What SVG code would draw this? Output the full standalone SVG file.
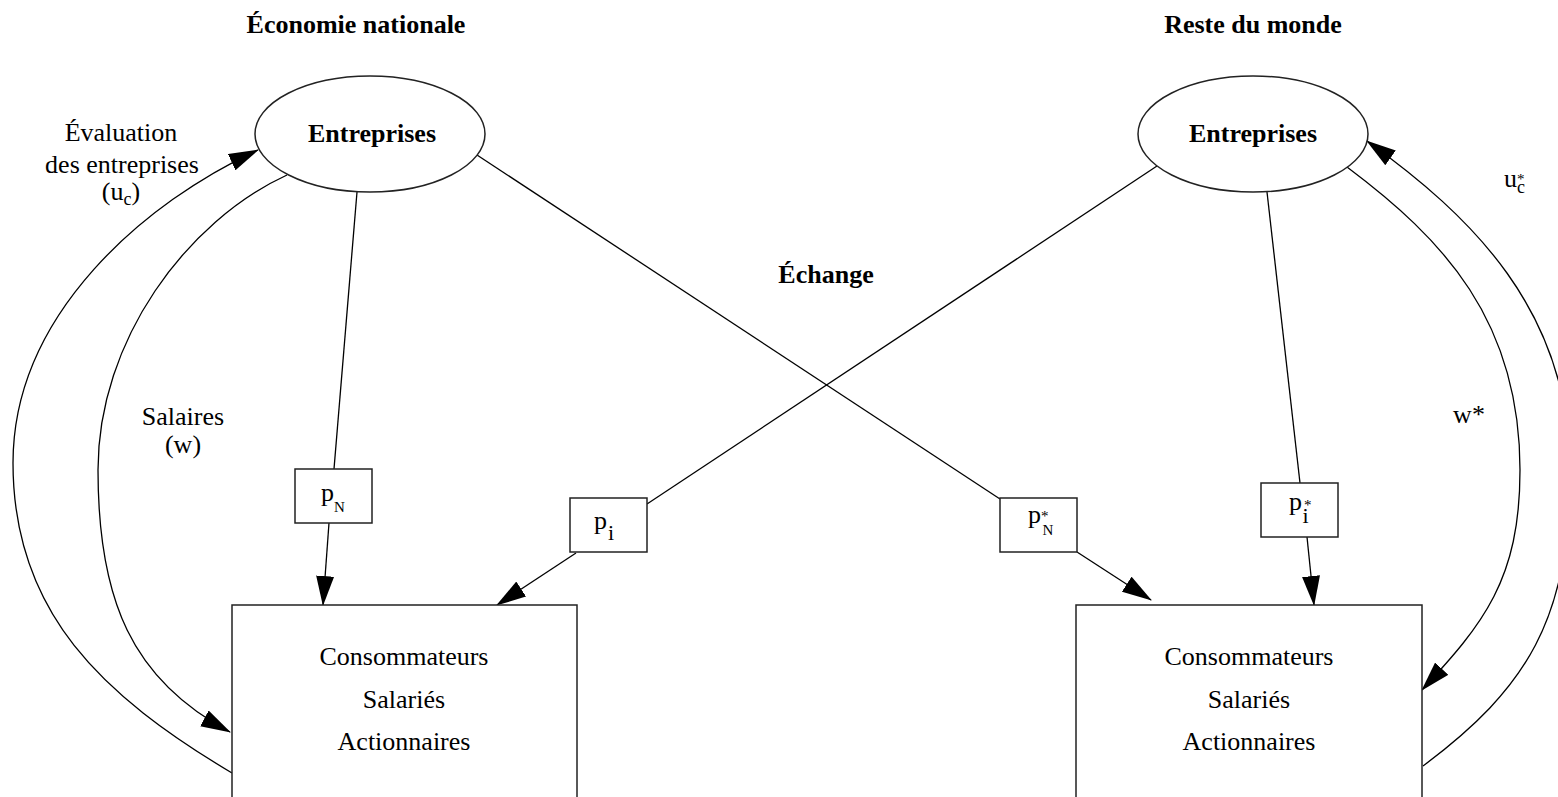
<svg xmlns="http://www.w3.org/2000/svg" width="1558" height="797" viewBox="0 0 1558 797">
<style>
text{font-family:"Liberation Serif","Times New Roman",serif;font-size:26px;fill:#000}
.b{font-weight:bold}
.shape{fill:#fff;stroke:#222;stroke-width:1.5}
.ln{fill:none;stroke:#000;stroke-width:1.3}
.sm{font-size:15px}
.sub{font-size:18px}
.si{font-size:22px}
</style>
<defs>
<marker id="arr" markerUnits="userSpaceOnUse" markerWidth="30" markerHeight="18" viewBox="0 0 30 18" refX="29" refY="9" orient="auto">
<path d="M0,0 L30,9 L0,18 z" fill="#000"/>
</marker>
</defs>
<g id="titles">
<text class="b" x="356" y="33" text-anchor="middle">Économie nationale</text>
<text class="b" x="1253" y="33" text-anchor="middle">Reste du monde</text>
<text class="b" x="826" y="283" text-anchor="middle">Échange</text>
</g>
<g id="connectors">
<path class="ln" d="M357,192 L334,469"/>
<path class="ln" d="M329,523 L323,605" marker-end="url(#arr)"/>
<path class="ln" d="M477,155 L1000,499"/>
<path class="ln" d="M1077,552 L1151,600" marker-end="url(#arr)"/>
<path class="ln" d="M1157,166 L647,504"/>
<path class="ln" d="M576,553 L497,605" marker-end="url(#arr)"/>
<path class="ln" d="M1267,192 L1300,483"/>
<path class="ln" d="M1307,537 L1314,605" marker-end="url(#arr)"/>
<path class="ln" d="M232,773 C103,696 13,613 13,463 C13,313 147,201 258,150" marker-end="url(#arr)"/>
<path class="ln" d="M287,175 C187,221 98,340 98,470 C98,600 132,680 230,732" marker-end="url(#arr)"/>
<path class="ln" d="M1423,766 C1527,688 1570,620 1570,470 C1570,310 1470,215 1367,141" marker-end="url(#arr)"/>
<path class="ln" d="M1347,167 C1443,239 1520,320 1520,470 C1520,580 1483,624 1422,690" marker-end="url(#arr)"/>
</g>
<g id="labels">
<text x="121" y="141" text-anchor="middle">Évaluation</text>
<text x="122" y="173" text-anchor="middle">des entreprises</text>
<text x="121" y="200" text-anchor="middle">(u<tspan class="sub" dy="5">c</tspan><tspan dy="-5">)</tspan></text>
<text x="183" y="425" text-anchor="middle">Salaires</text>
<text x="183" y="453" text-anchor="middle">(w)</text>
<text x="1469" y="423" text-anchor="middle">w*</text>
<text x="1504" y="187">u<tspan class="sm" dx="0" dy="-3">*</tspan><tspan class="sub" dx="-7.5" dy="9">c</tspan></text>
</g>
<g id="ent-nat">
<ellipse class="shape" cx="370" cy="134" rx="115" ry="58"/>
<text class="b" x="372" y="142" text-anchor="middle">Entreprises</text>
</g>
<g id="ent-rdm">
<ellipse class="shape" cx="1253" cy="134" rx="115" ry="58"/>
<text class="b" x="1253" y="142" text-anchor="middle">Entreprises</text>
</g>
<g id="pN">
<rect class="shape" x="295" y="469" width="77" height="54"/>
<text x="321" y="501">p<tspan class="sm" dy="11">N</tspan></text>
</g>
<g id="pi">
<rect class="shape" x="570" y="498" width="77" height="54"/>
<text x="594" y="529">p<tspan class="si" dx="1" dy="11">i</tspan></text>
</g>
<g id="pNstar">
<rect class="shape" x="1000" y="498" width="77" height="54"/>
<text x="1028" y="523">p<tspan class="sm" dy="-2">*</tspan><tspan class="sm" dx="-6" dy="14">N</tspan></text>
</g>
<g id="pistar">
<rect class="shape" x="1261" y="483" width="77" height="54"/>
<text x="1289" y="510">p<tspan class="sm" dx="2" dy="0">*</tspan><tspan class="si" dx="-9" dy="13">i</tspan></text>
</g>
<g id="menages-nat">
<rect class="shape" x="232" y="605" width="345" height="230"/>
<text x="404" y="665" text-anchor="middle">Consommateurs</text>
<text x="404" y="708" text-anchor="middle">Salariés</text>
<text x="404" y="750" text-anchor="middle">Actionnaires</text>
</g>
<g id="menages-rdm">
<rect class="shape" x="1076" y="605" width="346" height="230"/>
<text x="1249" y="665" text-anchor="middle">Consommateurs</text>
<text x="1249" y="708" text-anchor="middle">Salariés</text>
<text x="1249" y="750" text-anchor="middle">Actionnaires</text>
</g>
</svg>
